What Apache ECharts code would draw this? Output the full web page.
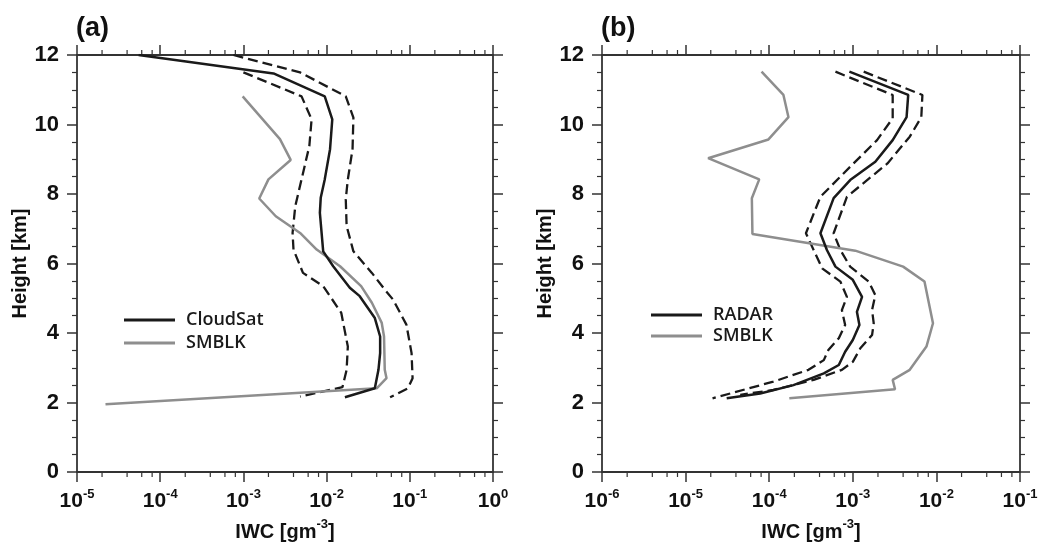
<!DOCTYPE html>
<html>
<head>
<meta charset="utf-8">
<script src="https://cdn.jsdelivr.net/npm/echarts@6/dist/echarts.min.js"></script>
<style>
html, body { margin: 0; padding: 0; background: #fff; }
#main { width: 1042px; height: 547px; }
</style>
</head>
<body>
<div id="main"></div>
<script>
// panel (a) : CloudSat vs SMBLK
var hCloudSat = [12.0, 11.47, 10.81, 10.15, 9.29, 8.42, 7.89, 7.46, 6.35, 5.92, 5.30, 5.06, 4.43, 3.90, 3.42, 2.94, 2.41, 2.15];
var iwcCloudSat = [5.5e-5, 2.3e-3, 9.5e-3, 1.17e-2, 1.1e-2, 9.5e-3, 8.5e-3, 8.3e-3, 9.1e-3, 1.2e-2, 1.9e-2, 2.5e-2, 3.8e-2, 4.4e-2, 4.4e-2, 4.2e-2, 3.8e-2, 1.66e-2];
var hCloudSatHi = [12.0, 11.5, 10.81, 10.2, 9.29, 8.42, 7.85, 7.08, 6.35, 5.73, 5.25, 4.96, 4.24, 3.42, 2.70, 2.41, 2.15];
var iwcCloudSatHi = [7.6e-4, 4.8e-3, 1.7e-2, 2.1e-2, 2.05e-2, 1.8e-2, 1.7e-2, 1.74e-2, 2.1e-2, 3.5e-2, 5.0e-2, 6.3e-2, 9.1e-2, 0.105, 0.108, 0.095, 0.058];
var hCloudSatLo = [11.5, 10.81, 10.15, 9.38, 8.42, 7.65, 6.88, 6.40, 5.73, 5.35, 4.58, 3.61, 2.94, 2.44, 2.17];
var iwcCloudSatLo = [1.0e-3, 5.0e-3, 6.6e-3, 6.2e-3, 5.0e-3, 4.2e-3, 3.9e-3, 4.0e-3, 5.2e-3, 9.1e-3, 1.5e-2, 1.8e-2, 1.74e-2, 1.55e-2, 4.8e-3];
var hSmblkA = [10.81, 9.58, 8.98, 8.42, 7.87, 7.36, 6.88, 6.40, 5.92, 5.35, 4.87, 4.29, 3.90, 2.94, 2.70, 2.41, 1.95];
var iwcSmblkA = [9.8e-4, 2.75e-3, 3.7e-3, 2.0e-3, 1.55e-3, 2.45e-3, 4.8e-3, 7.6e-3, 1.45e-2, 2.6e-2, 3.5e-2, 4.6e-2, 4.9e-2, 5.0e-2, 5.25e-2, 4.0e-2, 2.2e-5];

// panel (b) : RADAR vs SMBLK
var hRadar = [11.52, 10.85, 10.21, 9.55, 8.93, 8.40, 7.88, 6.87, 6.39, 5.91, 5.53, 5.04, 4.61, 4.23, 3.80, 3.46, 3.08, 2.84, 2.50, 2.26, 2.12];
var iwcRadar = [9.1e-4, 4.6e-3, 4.4e-3, 3.0e-3, 1.86e-3, 9.3e-4, 5.9e-4, 4.1e-4, 4.9e-4, 6.2e-4, 1.0e-3, 1.29e-3, 1.12e-3, 1.2e-3, 1.0e-3, 8.1e-4, 6.8e-4, 4.5e-4, 1.95e-4, 7.8e-5, 3.1e-5];
var hRadarHi = [11.52, 10.85, 10.21, 9.65, 8.88, 7.92, 6.87, 6.39, 5.91, 5.48, 5.09, 4.66, 4.28, 3.94, 3.56, 3.17, 2.94, 2.65, 2.36, 2.22];
var iwcRadarHi = [1.35e-3, 6.8e-3, 6.6e-3, 4.8e-3, 2.6e-3, 8.5e-4, 5.9e-4, 7.1e-4, 9.3e-4, 1.55e-3, 1.86e-3, 1.7e-3, 1.78e-3, 1.7e-3, 1.23e-3, 1.0e-3, 7.4e-4, 3.4e-4, 1.12e-4, 4.5e-5];
var hRadarLo = [11.52, 10.85, 10.18, 9.55, 8.88, 7.92, 6.87, 6.39, 5.86, 5.48, 5.04, 4.66, 4.23, 3.85, 3.51, 3.22, 2.94, 2.60, 2.12];
var iwcRadarLo = [6.2e-4, 3.0e-3, 3.0e-3, 1.95e-3, 1.02e-3, 4.1e-4, 2.75e-4, 3.4e-4, 4.3e-4, 7.1e-4, 8.5e-4, 7.4e-4, 8.1e-4, 6.8e-4, 5.1e-4, 4.5e-4, 2.95e-4, 1.12e-4, 2.1e-5];
var hSmblkB = [11.52, 10.85, 10.21, 9.57, 9.03, 8.42, 7.88, 6.85, 6.37, 5.91, 5.48, 4.28, 3.61, 2.94, 2.65, 2.38, 2.12];
var iwcSmblkB = [8.1e-5, 1.48e-4, 1.7e-4, 9.8e-5, 1.86e-5, 7.6e-5, 6.2e-5, 6.3e-5, 1.07e-3, 4.0e-3, 7.2e-3, 9.1e-3, 7.6e-3, 4.8e-3, 3.0e-3, 3.2e-3, 1.74e-4];

// axes
var yTicks = [0, 2, 4, 6, 8, 10, 12];
var xRangeA = [1e-5, 1];
var xRangeB = [1e-6, 1e-1];
var minorMult = [2, 4, 6, 8];

function pairs(xs, ys) {
    return xs.map(function (x, i) { return [x, ys[i]]; });
}

function minorValues(range) {
    var out = [];
    for (var d = range[0]; d < range[1] * 0.999; d *= 10) {
        minorMult.forEach(function (m) { out.push([d * m, yTicks[0]]); });
    }
    return out;
}

var frameColor = '#333';
var black = '#1a1a1a';
var gray = '#8e8e8e';
var labelFont = 'Liberation Sans';

function supLabel(v) {
    var e = Math.round(Math.log(v) / Math.LN10);
    return '{b|10}{s|' + e + '}';
}

var supRich = {
    b: { fontSize: 21, fontWeight: 'bold', fontFamily: labelFont, color: '#111', verticalAlign: 'bottom', lineHeight: 26 },
    s: { fontSize: 13, fontWeight: 'bold', fontFamily: labelFont, color: '#111', verticalAlign: 'bottom', lineHeight: 26, padding: [0, 0, 11, 0] }
};

function xAxes(gi, range) {
    var base = {
        type: 'log', logBase: 10, gridIndex: gi, min: range[0], max: range[1],
        axisLine: { show: true, onZero: false, lineStyle: { color: frameColor, width: 1.8 } },
        axisTick: { show: true, length: 10, lineStyle: { color: frameColor, width: 1.5 } },
        splitLine: { show: false },
        minorTick: { show: false }
    };
    var bottom = echarts.util.merge({
        position: 'bottom',
        axisLabel: { margin: 14, formatter: supLabel, rich: supRich },
        name: '{n|IWC [gm}{s|-3}{n|]}',
        nameLocation: 'middle',
        nameGap: 44,
        nameTextStyle: {
            rich: {
                n: { fontSize: 20, fontWeight: 'bold', fontFamily: labelFont, color: '#111', verticalAlign: 'bottom', lineHeight: 26 },
                s: { fontSize: 13, fontWeight: 'bold', fontFamily: labelFont, color: '#111', verticalAlign: 'bottom', lineHeight: 26, padding: [0, 0, 11, 0] }
            }
        }
    }, base, true);
    var top = echarts.util.merge({ position: 'top', axisLabel: { show: false } }, base, true);
    return [bottom, top];
}

function yAxes(gi) {
    var base = {
        type: 'value', gridIndex: gi, min: 0, max: 12, interval: 2,
        axisLine: { show: true, onZero: false, lineStyle: { color: frameColor, width: 1.8 } },
        axisTick: { show: true, length: 10, lineStyle: { color: frameColor, width: 1.5 } },
        minorTick: { show: true, splitNumber: 4, length: 5, lineStyle: { color: frameColor, width: 1.2 } },
        splitLine: { show: false },
        minorSplitLine: { show: false }
    };
    var left = echarts.util.merge({
        position: 'left',
        axisLabel: { margin: 18, fontSize: 22, fontWeight: 'bold', fontFamily: labelFont, color: '#111' },
        name: 'Height [km]',
        nameLocation: 'middle',
        nameGap: 47,
        nameRotate: 90,
        nameTextStyle: { fontSize: 20, fontWeight: 'bold', fontFamily: labelFont, color: '#111' }
    }, base, true);
    var right = echarts.util.merge({ position: 'right', axisLabel: { show: false } }, base, true);
    return [left, right];
}

function minorTickSeries(range, xi, yi) {
    return {
        type: 'custom',
        xAxisIndex: xi,
        yAxisIndex: yi,
        clip: false,
        silent: true,
        data: minorValues(range),
        renderItem: function (params, api) {
            var b = api.coord([api.value(0), yTicks[0]]);
            var t = api.coord([api.value(0), yTicks[yTicks.length - 1]]);
            var st = { stroke: frameColor, lineWidth: 1.2 };
            return {
                type: 'group',
                children: [
                    { type: 'line', shape: { x1: b[0], y1: b[1], x2: b[0], y2: b[1] + 5 }, style: st },
                    { type: 'line', shape: { x1: t[0], y1: t[1], x2: t[0], y2: t[1] - 5 }, style: st }
                ]
            };
        }
    };
}

function profile(name, xs, ys, xi, yi, color, dashed) {
    return {
        name: name,
        type: 'line',
        xAxisIndex: xi,
        yAxisIndex: yi,
        data: pairs(xs, ys),
        symbol: 'none',
        silent: true,
        lineStyle: { color: color, width: dashed ? 2.3 : 2.5, type: dashed ? [10, 5] : 'solid' },
        itemStyle: { color: color },
        z: dashed ? 3 : 4
    };
}

var legendText = { fontSize: 18, fontWeight: 600, fontFamily: 'Open Sans', color: '#1a1a1a', padding: [0, 0, 0, 6] };

var option = {
    animation: false,
    backgroundColor: '#fff',
    title: [
        { text: '(a)', left: 71, top: 10, textStyle: { fontSize: 27, fontWeight: 'bold', fontFamily: labelFont, color: '#111' } },
        { text: '(b)', left: 596, top: 10, textStyle: { fontSize: 27, fontWeight: 'bold', fontFamily: labelFont, color: '#111' } }
    ],
    legend: [
        {
            data: [{ name: 'CloudSat', icon: 'rect' }, { name: 'SMBLK', icon: 'rect' }],
            orient: 'vertical', left: 119, top: 306, itemWidth: 51, itemHeight: 3, itemGap: 5,
            textStyle: legendText, selectedMode: false
        },
        {
            data: [{ name: 'RADAR', icon: 'rect' }, { name: 'SMBLK ', icon: 'rect' }],
            orient: 'vertical', left: 646, top: 301, itemWidth: 51, itemHeight: 3, itemGap: 3,
            textStyle: legendText, selectedMode: false
        }
    ],
    grid: [
        { left: 77, top: 55, width: 416, height: 417 },
        { left: 602, top: 55, width: 418, height: 417 }
    ],
    xAxis: xAxes(0, xRangeA).concat(xAxes(1, xRangeB)),
    yAxis: yAxes(0).concat(yAxes(1)),
    series: [
        minorTickSeries(xRangeA, 0, 0),
        minorTickSeries(xRangeB, 2, 2),
        profile('CloudSat hi', iwcCloudSatHi, hCloudSatHi, 0, 0, black, true),
        profile('CloudSat lo', iwcCloudSatLo, hCloudSatLo, 0, 0, black, true),
        profile('SMBLK', iwcSmblkA, hSmblkA, 0, 0, gray, false),
        profile('CloudSat', iwcCloudSat, hCloudSat, 0, 0, black, false),
        profile('RADAR hi', iwcRadarHi, hRadarHi, 2, 2, black, true),
        profile('RADAR lo', iwcRadarLo, hRadarLo, 2, 2, black, true),
        profile('SMBLK ', iwcSmblkB, hSmblkB, 2, 2, gray, false),
        profile('RADAR', iwcRadar, hRadar, 2, 2, black, false)
    ]
};

var myChart = echarts.init(document.getElementById('main'));
myChart.setOption(option, true);
</script>
</body>
</html>
